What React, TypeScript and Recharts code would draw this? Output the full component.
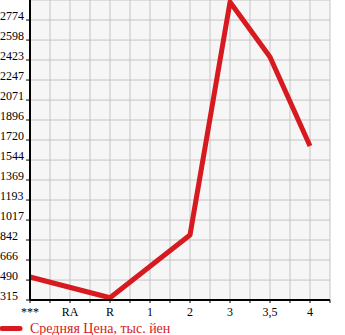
import { LineChart, Line, XAxis, YAxis, CartesianGrid } from "recharts";

const categories = ["***", "RA", "R", "1", "2", "3", "3,5", "4"];
// RA and 1 have no value; the line runs straight across them
const prices: (number | null)[] = [517, null, 335, null, 886, 2932, 2449, 1667];
const yTicks = [315, 490, 666, 842, 1017, 1193, 1369, 1544, 1720, 1896, 2071, 2247, 2423, 2598, 2774];
const xTicks = [0, 0.5, 1, 1.5, 2, 2.5, 3, 3.5, 4, 4.5, 5, 5.5, 6, 6.5, 7, 7.5];
const legendLabel = "Средняя Цена, тыс. йен";

const RED = "#d71a20";
const FONT = "'Liberation Serif', 'DejaVu Serif', serif";

const data = categories.map((c, i) => ({ x: i, label: c, price: prices[i] }));

function YTick({ y, payload }: any) {
  return (
    <text x={0} y={y} textAnchor="start" fontSize={12} fontFamily={FONT} fill="#000">
      {payload.value}
    </text>
  );
}

function XTick({ x, y, payload }: any) {
  const v = payload.value;
  if (!Number.isInteger(v) || v >= categories.length) return null;
  return (
    <text x={x} y={y + 11} textAnchor="middle" fontSize={12} fontFamily={FONT} fill="#000">
      {categories[v]}
    </text>
  );
}

export default function App() {
  return (
    <div style={{ position: "absolute", left: 0, top: 0, width: 345, height: 335, background: "#fff" }}>
      <LineChart
        width={345}
        height={318}
        data={data}
        margin={{ top: 0, right: 15, bottom: 0, left: 0 }}
      >
        <CartesianGrid stroke="#c4c4c4" strokeWidth={1} fill="#f6f6f6" />
        <XAxis
          type="number"
          dataKey="x"
          domain={[0, 7.5]}
          ticks={xTicks}
          interval={0}
          height={18}
          axisLine={{ stroke: "#000", strokeWidth: 2 }}
          tickLine={{ stroke: "#000" }}
          tickSize={3}
          tick={<XTick />}
        />
        <YAxis
          type="number"
          domain={[315, 2950]}
          ticks={yTicks}
          interval={0}
          width={30}
          axisLine={{ stroke: "#000", strokeWidth: 2 }}
          tickLine={{ stroke: "#000" }}
          tickSize={4}
          tick={<YTick />}
        />
        <Line
          type="linear"
          dataKey="price"
          stroke={RED}
          strokeWidth={5}
          strokeLinejoin="round"
          dot={false}
          connectNulls
          isAnimationActive={false}
        />
      </LineChart>
      <svg width={345} height={17} style={{ position: "absolute", left: 0, top: 318 }}>
        <line x1={2} y1={10.5} x2={20} y2={10.5} stroke={RED} strokeWidth={5} strokeLinecap="round" />
        <text x={30} y={15} fontSize={14} fontFamily={FONT} fill={RED}>
          {legendLabel}
        </text>
      </svg>
    </div>
  );
}
